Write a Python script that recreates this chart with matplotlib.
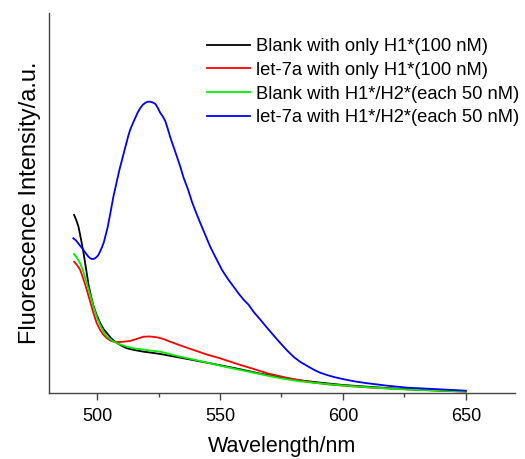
import matplotlib.pyplot as plt
from matplotlib.ticker import MultipleLocator

plt.rcParams['font.family'] = ['Liberation Sans', 'DejaVu Sans']

# wavelength (nm) / intensity (a.u.)
wl_black = [490.6, 491.5, 492.4, 493.4, 494.4, 495.5, 496.5, 497.5, 498.5, 499.8,
            501.2, 502.6, 504.0, 505.6, 507.3, 509.7, 512.1, 515.5, 518.9, 522.3,
            525.7, 530.5, 535.2, 540.6, 546.0, 552.0, 558.3, 566.0, 574.6, 582.0,
            590.9, 600.0, 609.9, 623.5, 637.0, 650.0]
black = [178, 173, 166.3, 154, 141, 124, 108, 97, 87, 78,
         70, 64, 59.7, 55, 51.3, 47.5, 44.7, 42.8, 41.3, 40.2,
         39, 36.8, 34.7, 32.2, 29.7, 26.8, 23.7, 19.5, 15.7, 12.8,
         10.3, 8.0, 6.3, 4.0, 2.8, 1.8]

wl_red = [490.6, 491.8, 493.1, 494.4, 495.8, 497.2, 498.5, 499.8, 501.2, 502.6,
          504.0, 505.3, 506.6, 508.5, 510.5, 513.4, 516.0, 518.9, 521.5, 524.3,
          527.0, 529.7, 534.5, 539.2, 544.6, 550.0, 558.3, 563.7, 569.2, 577.0,
          585.5, 593.5, 601.7, 613.0, 626.2, 638.0, 650.0]
red = [131.3, 128, 123, 114, 103, 91, 79.7, 70, 63, 58,
       54.7, 52.5, 51.3, 51, 51.2, 52, 54, 56.3, 56.5, 55.7,
       54, 51.3, 47, 43, 38.5, 34.7, 28, 24, 19.7, 15.3,
       11.3, 8.8, 7, 5.2, 3.7, 2.4, 1.3]

wl_green = [490.6, 491.8, 493.1, 494.4, 495.8, 497.2, 498.5, 499.8, 501.2, 502.6,
            504.0, 506.0, 508.0, 511.4, 514.8, 520.0, 525.7, 529.7, 533.8, 540.0,
            546.0, 552.0, 558.3, 566.0, 574.6, 582.0, 590.9, 600.0, 609.9, 623.5,
            637.0, 650.0]
green = [139, 135, 129.7, 121, 109.7, 98, 86.3, 76, 68, 61,
         56.3, 52.5, 49.7, 46.8, 44.7, 43, 41.3, 38.8, 36.3, 33,
         29.7, 26.2, 23, 19, 14.7, 11.8, 9.5, 7.5, 5.8, 3.7,
         2.5, 1.5]

wl_blue = [490.3, 491.4, 492.5, 493.5, 494.4, 495.3, 496.2, 497.0, 497.8, 498.5,
           499.2, 500.0, 500.5, 501.2, 502.0, 502.7, 503.3, 504.2, 505.0, 505.8,
           506.6, 507.5, 508.3, 509.2, 510.1, 511.0, 511.8, 512.6, 513.4, 514.5,
           515.5, 516.5, 517.5, 518.5, 519.5, 520.5, 521.6, 522.6, 523.7, 524.7,
           525.7, 526.7, 527.7, 528.7, 529.7, 531.1, 532.5, 533.8, 535.2, 536.9,
           538.6, 540.3, 542.0, 544.0, 546.0, 548.4, 550.8, 553.2, 555.6, 557.7,
           559.7, 561.7, 563.7, 566.5, 569.2, 572.0, 574.6, 577.3, 580.0, 582.7,
           585.5, 588.0, 590.5, 593.5, 596.3, 600.4, 605.0, 610.0, 618.0, 626.2,
           637.0, 650.0]
blue = [154.7, 152.5, 149, 146, 143, 140, 137, 135, 134, 134,
        134.8, 136.5, 138, 141.5, 146, 150.5, 156.3, 165, 175, 185.5,
        196.3, 206, 215, 224.5, 233, 241.5, 249, 256.5, 263, 269.5,
        275, 280.5, 284.7, 288, 290, 291.2, 291.3, 290.5, 289, 285,
        280, 276.5, 272, 264.5, 256, 246, 236, 226.5, 215, 204,
        191, 180, 169.7, 158, 146.3, 134.5, 123, 114, 106, 99,
        93, 88, 81, 73, 65, 57, 49.7, 42.5, 36, 31,
        27, 23.5, 20.5, 18, 16, 13.7, 11.5, 9.7, 7.3, 5.3,
        4.0, 2.3]

labels = ["Blank with only H1*(100 nM)",
          "let-7a with only H1*(100 nM)",
          "Blank with H1*/H2*(each 50 nM)",
          "let-7a with H1*/H2*(each 50 nM)"]

fig = plt.figure(figsize=(5.25, 4.59), dpi=100)
ax = fig.add_axes([0.0933, 0.1438, 0.8876, 0.828])

ax.plot(wl_black, black, color='black', lw=1.3, label=labels[0])
ax.plot(wl_red, red, color='#ff0000', lw=1.3, label=labels[1])
ax.plot(wl_green, green, color='#00ee00', lw=1.3, label=labels[2])
ax.plot(wl_blue, blue, color='#0000ff', lw=1.3, label=labels[3])

ax.set_xlim(480.4, 670)
ax.set_ylim(0, 380)
ax.spines['top'].set_visible(False)
ax.spines['right'].set_visible(False)
for s in ['left', 'bottom']:
    ax.spines[s].set_color('#444444')
    ax.spines[s].set_linewidth(1.0)
ax.set_yticks([])
ax.xaxis.set_major_locator(MultipleLocator(50))
ax.xaxis.set_minor_locator(MultipleLocator(25))
ax.tick_params(axis='x', which='major', length=5, width=1, color='#444444',
               labelsize=13, pad=6)
ax.tick_params(axis='x', which='minor', length=3, width=1, color='#444444')

ax.set_xlabel('Wavelength/nm', fontsize=15.5, labelpad=8)
ax.set_ylabel('Fluorescence Intensity/a.u.', fontsize=17, labelpad=6)

ax.legend(loc='upper right', bbox_to_anchor=(1.009, 0.934), frameon=False,
          fontsize=13.2, handlelength=2.35, handletextpad=0.33, labelspacing=0.37,
          borderaxespad=0, borderpad=0)

fig.savefig('out.png', dpi=100)
